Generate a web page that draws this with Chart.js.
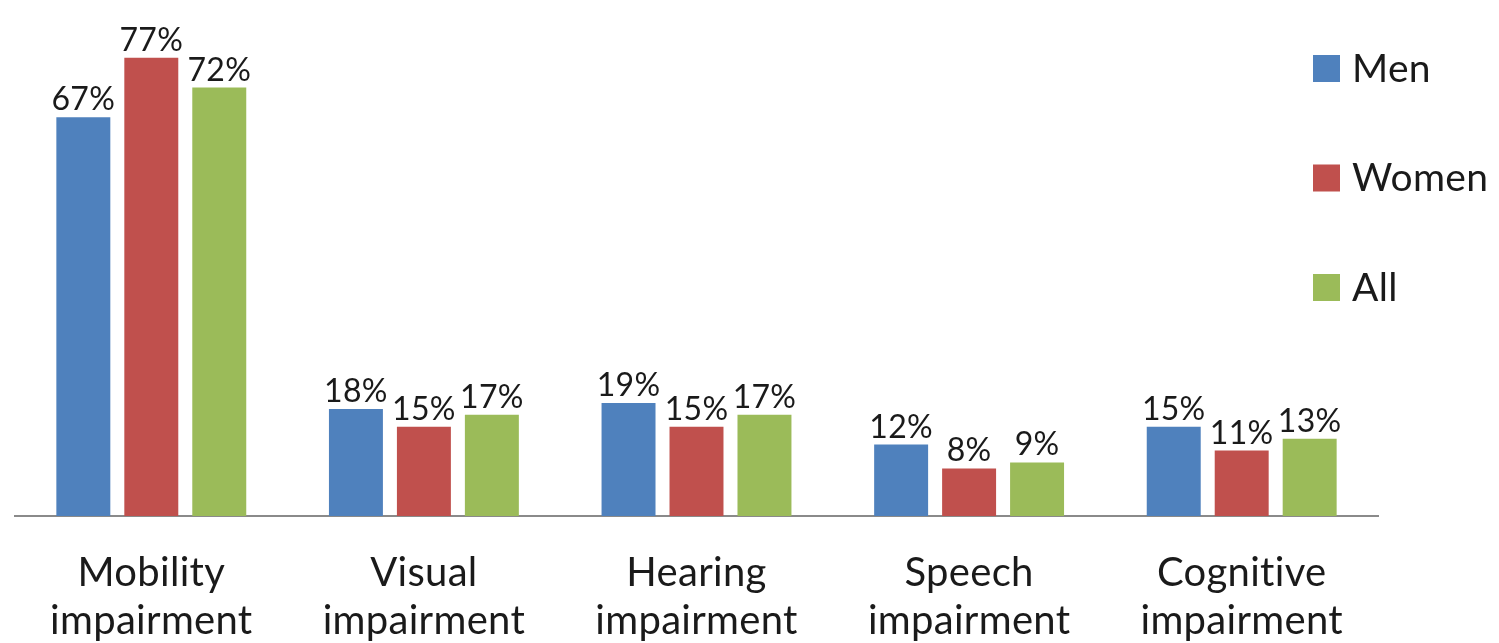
<!DOCTYPE html>
<html>
<head>
<meta charset="utf-8">
<script src="https://cdn.jsdelivr.net/npm/chart.js@4/dist/chart.umd.min.js"></script>
<style>
  html, body { margin: 0; padding: 0; background: #fff; }
  #wrap { width: 1499px; height: 643px; }
</style>
</head>
<body>
<div id="wrap"><canvas id="myChart" width="1499" height="643"></canvas></div>
<script>
const categories = [
  ["Mobility", "impairment"],
  ["Visual", "impairment"],
  ["Hearing", "impairment"],
  ["Speech", "impairment"],
  ["Cognitive", "impairment"]
];
const menValues = [67, 18, 19, 12, 15];
const womenValues = [77, 15, 15, 8, 11];
const allValues = [72, 17, 17, 9, 13];
const seriesNames = ["Men", "Women", "All"];
const seriesColors = ["#4F81BD", "#C0504D", "#9BBB59"];

const FONT = "Lato, 'Open Sans', sans-serif";

// tiny letter spacing so Lato does not join "ti" into a ligature
const noLigatures = {
  id: "noLigatures",
  beforeDraw(chart) {
    chart.ctx.letterSpacing = "0.3px";
  }
};

// value labels above each bar
const barLabels = {
  id: "barLabels",
  afterDatasetsDraw(chart) {
    const ctx = chart.ctx;
    ctx.save();
    ctx.font = "32px " + FONT;
    ctx.fillStyle = "#1a1a1a";
    ctx.textAlign = "center";
    ctx.textBaseline = "alphabetic";
    chart.data.datasets.forEach((ds, i) => {
      chart.getDatasetMeta(i).data.forEach((bar, j) => {
        ctx.fillText(ds.data[j] + "%", bar.x, bar.y - 7);
      });
    });
    ctx.restore();
  }
};

// legend drawn at the top right, stacked with wide gaps
const sideLegend = {
  id: "sideLegend",
  afterDraw(chart) {
    const ctx = chart.ctx;
    ctx.save();
    ctx.font = "39px " + FONT;
    ctx.textBaseline = "middle";
    chart.data.datasets.forEach((ds, i) => {
      const y = 68 + i * 109.5;
      ctx.fillStyle = ds.backgroundColor;
      ctx.fillRect(1313, y - 13, 27, 27);
      ctx.fillStyle = "#1a1a1a";
      ctx.fillText(ds.label, 1352, y + 1);
    });
    ctx.restore();
  }
};

new Chart(document.getElementById("myChart"), {
  type: "bar",
  data: {
    labels: categories,
    datasets: [
      { label: seriesNames[0], data: menValues, backgroundColor: seriesColors[0] },
      { label: seriesNames[1], data: womenValues, backgroundColor: seriesColors[1] },
      { label: seriesNames[2], data: allValues, backgroundColor: seriesColors[2] }
    ]
  },
  options: {
    responsive: false,
    animation: false,
    categoryPercentage: 0.748,
    barPercentage: 0.794,
    layout: { padding: { left: 15, right: 121, top: 40, bottom: 0 } },
    plugins: {
      legend: { display: false },
      tooltip: { enabled: false }
    },
    scales: {
      y: { display: false, min: 0, max: 80 },
      x: {
        afterFit(scale) { scale.height = 127; },
        grid: { display: false },
        border: { display: true, color: "#8a8a8a", width: 2 },
        ticks: {
          color: "#1a1a1a",
          padding: 25,
          font: { family: FONT, size: 40, lineHeight: 1.2 }
        }
      }
    }
  },
  plugins: [noLigatures, barLabels, sideLegend]
});
</script>
</body>
</html>
